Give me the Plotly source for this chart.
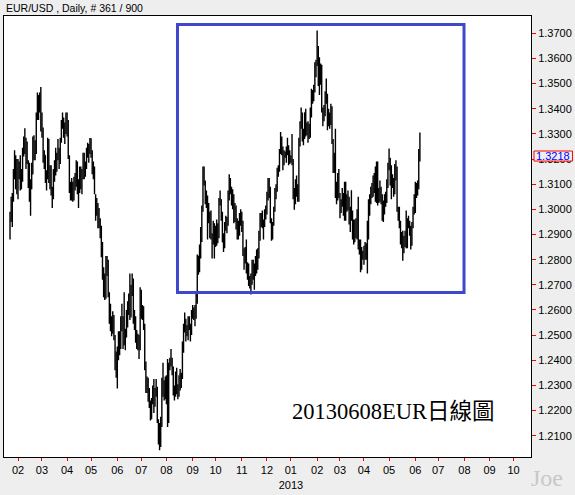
import pandas as pd
import plotly.graph_objects as go

title_text = "EUR/USD , Daily, # 361 / 900"
caption_text = "20130608EUR日線圖"
signature_text = "Joe"
first_day = "2012-01-23"
axis_end_day = "2013-10-31"
tick_month_starts = pd.date_range("2012-02-01", "2013-10-01", freq="MS")
tick_labels = ["02", "03", "04", "05", "06", "07", "08", "09", "10", "11", "12",
               "01<br>2013", "02", "03", "04", "05", "06", "07", "08", "09", "10"]

opens = [
    # 2012-01 (7)
    1.2930, 1.2975, 1.3030, 1.3040, 1.3140, 1.3210, 1.3130,
    # 2012-02 (21)
    1.3085, 1.3160, 1.3160, 1.3150, 1.3135, 1.3240, 1.3270, 1.3280, 1.3195, 1.3190, 1.3125, 1.3045, 1.3110, 1.3140, 1.3240, 1.3235, 1.3240, 1.3375, 1.3450, 1.3400, 1.3445,
    # 2012-03 (22)
    1.3320, 1.3315, 1.3200, 1.3215, 1.3135, 1.3125, 1.3270, 1.3125, 1.3140, 1.3080, 1.3060, 1.3150, 1.3175, 1.3220, 1.3210, 1.3240, 1.3190, 1.3270, 1.3330, 1.3350, 1.3310, 1.3310,
    # 2012-04 (21)
    1.3340, 1.3320, 1.3210, 1.3080, 1.3070, 1.3100, 1.3090, 1.3095, 1.3125, 1.3160, 1.3075, 1.3080, 1.3160, 1.3105, 1.3140, 1.3220, 1.3160, 1.3170, 1.3235, 1.3240, 1.3240,
    # 2012-05 (23)
    1.3240, 1.3230, 1.3150, 1.3150, 1.2990, 1.3040, 1.3020, 1.2955, 1.2940, 1.2915, 1.2830, 1.2765, 1.2720, 1.2670, 1.2780, 1.2780, 1.2665, 1.2580, 1.2520, 1.2515, 1.2560, 1.2495, 1.2375,
    # 2012-06 (21)
    1.2365, 1.2430, 1.2500, 1.2455, 1.2560, 1.2560, 1.2515, 1.2475, 1.2505, 1.2565, 1.2630, 1.2640, 1.2580, 1.2680, 1.2705, 1.2555, 1.2570, 1.2500, 1.2495, 1.2495, 1.2445,
    # 2012-07 (22)
    1.2665, 1.2585, 1.2610, 1.2535, 1.2390, 1.2290, 1.2290, 1.2265, 1.2215, 1.2200, 1.2240, 1.2290, 1.2270, 1.2270, 1.2285, 1.2155, 1.2115, 1.2065, 1.2165, 1.2290, 1.2315, 1.2280,
    # 2012-08 (23)
    1.2305, 1.2235, 1.2170, 1.2385, 1.2400, 1.2405, 1.2365, 1.2280, 1.2290, 1.2335, 1.2275, 1.2285, 1.2345, 1.2330, 1.2330, 1.2455, 1.2535, 1.2560, 1.2515, 1.2505, 1.2565, 1.2530, 1.2515,
    # 2012-09 (20)
    1.2575, 1.2590, 1.2570, 1.2605, 1.2635, 1.2815, 1.2765, 1.2850, 1.2895, 1.3005, 1.3130, 1.3110, 1.3050, 1.3050, 1.2975, 1.2980, 1.2935, 1.2900, 1.2875, 1.2910,
    # 2012-10 (23)
    1.2860, 1.2890, 1.2885, 1.2895, 1.3035, 1.3040, 1.2965, 1.2870, 1.2865, 1.2935, 1.2955, 1.2945, 1.3055, 1.3115, 1.3085, 1.3020, 1.3055, 1.2975, 1.2975, 1.2935, 1.2940, 1.2910, 1.2975,
    # 2012-11 (22)
    1.2960, 1.2940, 1.2835, 1.2805, 1.2810, 1.2780, 1.2750, 1.2710, 1.2710, 1.2710, 1.2740, 1.2770, 1.2745, 1.2810, 1.2815, 1.2825, 1.2900, 1.2975, 1.2970, 1.2945, 1.2945, 1.2980,
    # 2012-12 (21)
    1.2985, 1.3060, 1.3085, 1.3075, 1.2960, 1.2920, 1.2945, 1.3000, 1.3080, 1.3080, 1.3160, 1.3160, 1.3235, 1.3235, 1.3240, 1.3180, 1.3220, 1.3220, 1.3225, 1.3240, 1.3215,
    # 2013-01 (23)
    1.3190, 1.3200, 1.3185, 1.3050, 1.3070, 1.3115, 1.3075, 1.3065, 1.3270, 1.3345, 1.3380, 1.3295, 1.3285, 1.3385, 1.3315, 1.3320, 1.3315, 1.3320, 1.3380, 1.3460, 1.3450, 1.3485, 1.3575,
    # 2013-02 (20)
    1.3580, 1.3640, 1.3505, 1.3525, 1.3525, 1.3400, 1.3365, 1.3405, 1.3450, 1.3455, 1.3365, 1.3360, 1.3365, 1.3385, 1.3275, 1.3185, 1.3190, 1.3060, 1.3065, 1.3130,
    # 2013-03 (21)
    1.3055, 1.3020, 1.3025, 1.3050, 1.2985, 1.3105, 1.3010, 1.3020, 1.3040, 1.2955, 1.2965, 1.2910, 1.2955, 1.2870, 1.2950, 1.2905, 1.2985, 1.2855, 1.2845, 1.2780, 1.2815,
    # 2013-04 (22)
    1.2820, 1.2845, 1.2815, 1.2850, 1.2950, 1.2995, 1.3045, 1.3065, 1.3075, 1.3105, 1.3110, 1.3035, 1.3180, 1.3040, 1.3050, 1.3045, 1.3030, 1.2990, 1.2985, 1.3025, 1.3030, 1.3095,
    # 2013-05 (23)
    1.3170, 1.3185, 1.3110, 1.3110, 1.3115, 1.3075, 1.3175, 1.3160, 1.2995, 1.2975, 1.2935, 1.2880, 1.2880, 1.2835, 1.2860, 1.2895, 1.2860, 1.2935, 1.2935, 1.2905, 1.2865, 1.2945, 1.2995,
    # 2013-06 (5)
    1.2995, 1.3070, 1.3080, 1.3095, 1.3220,
]

highs = [
    1.2990, 1.3050, 1.3065, 1.3160, 1.3235, 1.3215, 1.3200,
    1.3200, 1.3190, 1.3215, 1.3160, 1.3245, 1.3290, 1.3322, 1.3285, 1.3270, 1.3195, 1.3185, 1.3120, 1.3185, 1.3290, 1.3295, 1.3275, 1.3385, 1.3465, 1.3455, 1.3465, 1.3486,
    1.3385, 1.3325, 1.3235, 1.3215, 1.3155, 1.3285, 1.3280, 1.3175, 1.3175, 1.3090, 1.3160, 1.3195, 1.3245, 1.3225, 1.3280, 1.3245, 1.3285, 1.3355, 1.3385, 1.3365, 1.3345, 1.3385,
    1.3385, 1.3355, 1.3215, 1.3110, 1.3125, 1.3110, 1.3130, 1.3145, 1.3195, 1.3190, 1.3120, 1.3170, 1.3170, 1.3160, 1.3225, 1.3225, 1.3190, 1.3245, 1.3265, 1.3260, 1.3284,
    1.3283, 1.3235, 1.3190, 1.3170, 1.3060, 1.3045, 1.3025, 1.3005, 1.2965, 1.2935, 1.2870, 1.2770, 1.2745, 1.2815, 1.2815, 1.2800, 1.2670, 1.2625, 1.2575, 1.2595, 1.2580, 1.2500, 1.2435,
    1.2455, 1.2515, 1.2515, 1.2575, 1.2625, 1.2575, 1.2670, 1.2525, 1.2600, 1.2635, 1.2665, 1.2745, 1.2700, 1.2745, 1.2725, 1.2600, 1.2575, 1.2520, 1.2505, 1.2500, 1.2690,
    1.2680, 1.2620, 1.2615, 1.2545, 1.2395, 1.2335, 1.2330, 1.2290, 1.2240, 1.2250, 1.2300, 1.2325, 1.2290, 1.2325, 1.2295, 1.2165, 1.2150, 1.2175, 1.2330, 1.2390, 1.2320, 1.2335,
    1.2340, 1.2405, 1.2390, 1.2410, 1.2445, 1.2410, 1.2375, 1.2300, 1.2355, 1.2370, 1.2305, 1.2340, 1.2365, 1.2350, 1.2475, 1.2545, 1.2590, 1.2565, 1.2540, 1.2575, 1.2575, 1.2545, 1.2600,
    1.2620, 1.2610, 1.2620, 1.2665, 1.2820, 1.2815, 1.2860, 1.2930, 1.3015, 1.3170, 1.3170, 1.3115, 1.3075, 1.3055, 1.3025, 1.2990, 1.2995, 1.2905, 1.2955, 1.2945,
    1.2935, 1.2960, 1.2945, 1.3045, 1.3075, 1.3040, 1.2990, 1.2905, 1.2950, 1.2975, 1.2970, 1.3075, 1.3140, 1.3125, 1.3090, 1.3080, 1.3060, 1.3025, 1.3015, 1.2965, 1.2955, 1.2985, 1.3000,
    1.2990, 1.2955, 1.2845, 1.2850, 1.2880, 1.2790, 1.2785, 1.2735, 1.2745, 1.2800, 1.2800, 1.2785, 1.2815, 1.2840, 1.2845, 1.2915, 1.2985, 1.2985, 1.2995, 1.2960, 1.3000, 1.3015,
    1.3070, 1.3125, 1.3125, 1.3090, 1.2965, 1.2950, 1.3010, 1.3085, 1.3100, 1.3165, 1.3175, 1.3240, 1.3308, 1.3290, 1.3250, 1.3235, 1.3230, 1.3250, 1.3285, 1.3255, 1.3235,
    1.3215, 1.3300, 1.3200, 1.3085, 1.3120, 1.3135, 1.3100, 1.3285, 1.3350, 1.3405, 1.3385, 1.3320, 1.3385, 1.3400, 1.3345, 1.3350, 1.3340, 1.3405, 1.3480, 1.3475, 1.3495, 1.3585, 1.3595,
    1.3711, 1.3650, 1.3605, 1.3580, 1.3575, 1.3405, 1.3415, 1.3470, 1.3520, 1.3460, 1.3400, 1.3385, 1.3420, 1.3410, 1.3280, 1.3225, 1.3320, 1.3110, 1.3145, 1.3160,
    1.3065, 1.3040, 1.3085, 1.3065, 1.3110, 1.3110, 1.3060, 1.3075, 1.3050, 1.3010, 1.3075, 1.2995, 1.2960, 1.2960, 1.2965, 1.3000, 1.3050, 1.2880, 1.2880, 1.2850, 1.2835,
    1.2855, 1.2870, 1.2865, 1.2955, 1.3040, 1.3060, 1.3090, 1.3105, 1.3135, 1.3145, 1.3170, 1.3190, 1.3190, 1.3085, 1.3115, 1.3090, 1.3060, 1.3035, 1.3060, 1.3070, 1.3120, 1.3185,
    1.3242, 1.3205, 1.3175, 1.3140, 1.3125, 1.3180, 1.3195, 1.3170, 1.3010, 1.3010, 1.2955, 1.2910, 1.2915, 1.2895, 1.2915, 1.2995, 1.2965, 1.2975, 1.2955, 1.2935, 1.2950, 1.3010, 1.3060,
    1.3110, 1.3105, 1.3115, 1.3240, 1.3306,
]

lows = [
    1.2880, 1.2950, 1.2930, 1.3030, 1.3120, 1.3080, 1.3060,
    1.3040, 1.3120, 1.3075, 1.3080, 1.3110, 1.3210, 1.3220, 1.3160, 1.3180, 1.3085, 1.3030, 1.2975, 1.3080, 1.3140, 1.3195, 1.3195, 1.3220, 1.3355, 1.3355, 1.3385, 1.3310,
    1.3285, 1.3185, 1.3160, 1.3105, 1.3075, 1.3120, 1.3105, 1.3080, 1.3055, 1.3005, 1.3040, 1.3110, 1.3135, 1.3150, 1.3195, 1.3160, 1.3180, 1.3265, 1.3320, 1.3285, 1.3260, 1.3300,
    1.3290, 1.3200, 1.3065, 1.3035, 1.3035, 1.3030, 1.3035, 1.3075, 1.3090, 1.3060, 1.3005, 1.3065, 1.3080, 1.3060, 1.3120, 1.3120, 1.3130, 1.3160, 1.3205, 1.3185, 1.3220,
    1.3205, 1.3140, 1.3120, 1.3060, 1.2955, 1.2975, 1.2925, 1.2925, 1.2885, 1.2810, 1.2720, 1.2650, 1.2640, 1.2645, 1.2735, 1.2650, 1.2545, 1.2515, 1.2495, 1.2505, 1.2480, 1.2360, 1.2330,
    1.2288, 1.2400, 1.2420, 1.2445, 1.2515, 1.2445, 1.2460, 1.2440, 1.2490, 1.2530, 1.2580, 1.2560, 1.2570, 1.2655, 1.2545, 1.2520, 1.2470, 1.2445, 1.2440, 1.2405, 1.2440,
    1.2565, 1.2560, 1.2520, 1.2360, 1.2270, 1.2270, 1.2235, 1.2210, 1.2160, 1.2165, 1.2225, 1.2190, 1.2215, 1.2255, 1.2150, 1.2065, 1.2042, 1.2055, 1.2135, 1.2255, 1.2240, 1.2245,
    1.2225, 1.2135, 1.2150, 1.2360, 1.2375, 1.2340, 1.2260, 1.2240, 1.2255, 1.2265, 1.2245, 1.2255, 1.2280, 1.2290, 1.2325, 1.2430, 1.2510, 1.2475, 1.2495, 1.2480, 1.2520, 1.2475, 1.2500,
    1.2565, 1.2560, 1.2535, 1.2565, 1.2625, 1.2740, 1.2750, 1.2805, 1.2870, 1.2990, 1.3095, 1.3020, 1.3005, 1.2880, 1.2945, 1.2885, 1.2880, 1.2805, 1.2860, 1.2805,
    1.2850, 1.2855, 1.2865, 1.2885, 1.3015, 1.2955, 1.2870, 1.2830, 1.2845, 1.2915, 1.2905, 1.2935, 1.3035, 1.3060, 1.3015, 1.3000, 1.2945, 1.2950, 1.2920, 1.2880, 1.2880, 1.2895, 1.2935,
    1.2910, 1.2815, 1.2760, 1.2785, 1.2745, 1.2720, 1.2695, 1.2685, 1.2661, 1.2700, 1.2720, 1.2680, 1.2735, 1.2745, 1.2760, 1.2805, 1.2875, 1.2930, 1.2925, 1.2880, 1.2930, 1.2960,
    1.2980, 1.3035, 1.3045, 1.2945, 1.2875, 1.2880, 1.2935, 1.2990, 1.3040, 1.3070, 1.3130, 1.3150, 1.3220, 1.3215, 1.3155, 1.3175, 1.3205, 1.3185, 1.3215, 1.3175, 1.3180,
    1.3185, 1.3175, 1.3040, 1.2998, 1.3020, 1.3050, 1.3030, 1.3030, 1.3250, 1.3320, 1.3270, 1.3255, 1.3280, 1.3290, 1.3295, 1.3265, 1.3280, 1.3285, 1.3365, 1.3420, 1.3430, 1.3465, 1.3525,
    1.3570, 1.3490, 1.3455, 1.3495, 1.3385, 1.3330, 1.3350, 1.3370, 1.3420, 1.3315, 1.3330, 1.3320, 1.3335, 1.3260, 1.3145, 1.3145, 1.3045, 1.3020, 1.3035, 1.3045,
    1.2965, 1.2985, 1.3010, 1.2975, 1.2955, 1.2955, 1.2990, 1.2995, 1.2940, 1.2910, 1.2955, 1.2880, 1.2860, 1.2870, 1.2885, 1.2880, 1.2840, 1.2820, 1.2750, 1.2760, 1.2800,
    1.2780, 1.2800, 1.2800, 1.2745, 1.2880, 1.2975, 1.3020, 1.3045, 1.3050, 1.3065, 1.3030, 1.3025, 1.3015, 1.3025, 1.3030, 1.3020, 1.2955, 1.2950, 1.2980, 1.3010, 1.3025, 1.3085,
    1.3155, 1.3095, 1.3040, 1.3085, 1.3050, 1.3060, 1.3115, 1.2990, 1.2955, 1.2925, 1.2860, 1.2845, 1.2796, 1.2825, 1.2850, 1.2845, 1.2845, 1.2925, 1.2895, 1.2840, 1.2855, 1.2925, 1.2980,
    1.2985, 1.3045, 1.3055, 1.3080, 1.3190,
]

closes = [
    1.2975, 1.3030, 1.3040, 1.3140, 1.3210, 1.3130, 1.3085,
    1.3160, 1.3160, 1.3150, 1.3135, 1.3240, 1.3270, 1.3280, 1.3195, 1.3190, 1.3125, 1.3045, 1.3110, 1.3140, 1.3240, 1.3235, 1.3240, 1.3375, 1.3450, 1.3400, 1.3445, 1.3320,
    1.3315, 1.3200, 1.3215, 1.3135, 1.3125, 1.3270, 1.3125, 1.3140, 1.3080, 1.3060, 1.3150, 1.3175, 1.3220, 1.3210, 1.3240, 1.3190, 1.3270, 1.3330, 1.3350, 1.3310, 1.3310, 1.3340,
    1.3320, 1.3210, 1.3080, 1.3070, 1.3100, 1.3090, 1.3095, 1.3125, 1.3160, 1.3075, 1.3080, 1.3160, 1.3105, 1.3140, 1.3220, 1.3160, 1.3170, 1.3235, 1.3240, 1.3240, 1.3240,
    1.3230, 1.3150, 1.3150, 1.3080, 1.3040, 1.3020, 1.2955, 1.2940, 1.2915, 1.2830, 1.2765, 1.2720, 1.2670, 1.2780, 1.2780, 1.2665, 1.2580, 1.2520, 1.2515, 1.2560, 1.2495, 1.2375, 1.2365,
    1.2430, 1.2500, 1.2455, 1.2560, 1.2560, 1.2515, 1.2475, 1.2505, 1.2565, 1.2630, 1.2640, 1.2580, 1.2680, 1.2705, 1.2555, 1.2570, 1.2500, 1.2495, 1.2495, 1.2445, 1.2665,
    1.2585, 1.2610, 1.2535, 1.2390, 1.2290, 1.2290, 1.2265, 1.2215, 1.2200, 1.2240, 1.2290, 1.2270, 1.2270, 1.2285, 1.2155, 1.2115, 1.2065, 1.2165, 1.2290, 1.2315, 1.2280, 1.2305,
    1.2235, 1.2170, 1.2385, 1.2400, 1.2405, 1.2365, 1.2280, 1.2290, 1.2335, 1.2275, 1.2285, 1.2345, 1.2330, 1.2330, 1.2455, 1.2535, 1.2560, 1.2515, 1.2505, 1.2565, 1.2530, 1.2515, 1.2575,
    1.2590, 1.2570, 1.2605, 1.2635, 1.2815, 1.2765, 1.2850, 1.2895, 1.3005, 1.3130, 1.3110, 1.3050, 1.3050, 1.2975, 1.2980, 1.2935, 1.2900, 1.2875, 1.2910, 1.2860,
    1.2890, 1.2885, 1.2895, 1.3035, 1.3040, 1.2965, 1.2870, 1.2865, 1.2935, 1.2955, 1.2945, 1.3055, 1.3115, 1.3085, 1.3020, 1.3055, 1.2975, 1.2975, 1.2935, 1.2940, 1.2910, 1.2975, 1.2960,
    1.2940, 1.2835, 1.2805, 1.2810, 1.2780, 1.2750, 1.2710, 1.2710, 1.2710, 1.2740, 1.2770, 1.2745, 1.2810, 1.2815, 1.2825, 1.2900, 1.2975, 1.2970, 1.2945, 1.2945, 1.2980, 1.2985,
    1.3060, 1.3085, 1.3075, 1.2960, 1.2920, 1.2945, 1.3000, 1.3080, 1.3080, 1.3160, 1.3160, 1.3235, 1.3235, 1.3240, 1.3180, 1.3220, 1.3220, 1.3225, 1.3240, 1.3215, 1.3190,
    1.3200, 1.3185, 1.3050, 1.3070, 1.3115, 1.3075, 1.3065, 1.3270, 1.3345, 1.3380, 1.3295, 1.3285, 1.3385, 1.3315, 1.3320, 1.3315, 1.3320, 1.3380, 1.3460, 1.3450, 1.3485, 1.3575, 1.3580,
    1.3640, 1.3505, 1.3525, 1.3525, 1.3400, 1.3365, 1.3405, 1.3450, 1.3455, 1.3365, 1.3360, 1.3365, 1.3385, 1.3275, 1.3185, 1.3190, 1.3060, 1.3065, 1.3130, 1.3055,
    1.3020, 1.3025, 1.3050, 1.2985, 1.3105, 1.3010, 1.3020, 1.3040, 1.2955, 1.2965, 1.3075, 1.2955, 1.2870, 1.2950, 1.2905, 1.2985, 1.2855, 1.2845, 1.2780, 1.2815, 1.2820,
    1.2845, 1.2815, 1.2850, 1.2950, 1.2995, 1.3045, 1.3065, 1.3075, 1.3105, 1.3110, 1.3035, 1.3180, 1.3040, 1.3050, 1.3045, 1.3030, 1.2990, 1.2985, 1.3025, 1.3030, 1.3095, 1.3170,
    1.3185, 1.3110, 1.3110, 1.3115, 1.3075, 1.3175, 1.3160, 1.2995, 1.2975, 1.2935, 1.2880, 1.2880, 1.2835, 1.2860, 1.2895, 1.2860, 1.2935, 1.2935, 1.2905, 1.2865, 1.2945, 1.2995, 1.2995,
    1.3070, 1.3080, 1.3095, 1.3220, 1.3218,
]

# trading-day calendar (weekdays) used as the x axis
calendar = pd.bdate_range(first_day, axis_end_day)
x_idx = list(range(len(closes)))
tick_pos = [int(calendar.searchsorted(m)) for m in tick_month_starts]

fig = go.Figure(go.Ohlc(
    x=x_idx, open=opens, high=highs, low=lows, close=closes,
    increasing=dict(line=dict(color="black", width=1.4)),
    decreasing=dict(line=dict(color="black", width=1.4)),
    tickwidth=0.5, hoverinfo="skip",
))

axis_font = dict(family="Arial, 'Liberation Sans', sans-serif", size=11, color="black")

fig.update_layout(
    width=575, height=495,
    margin=dict(l=4, r=44, t=16, b=38),
    paper_bgcolor="#EEEEEE", plot_bgcolor="white",
    showlegend=False,
    font=axis_font,
)
fig.update_xaxes(
    range=[-5.26, 456.3], tickmode="array", tickvals=tick_pos, ticktext=tick_labels,
    ticks="outside", ticklen=3, tickcolor="red", tickwidth=1, tickfont=axis_font,
    showline=True, mirror=True, linecolor="black", linewidth=1,
    showgrid=False, zeroline=False, rangeslider_visible=False, automargin=False,
)
fig.update_yaxes(
    side="right", range=[1.20153, 1.37688], tick0=1.2, dtick=0.01, tickformat=".4f",
    ticks="outside", ticklen=4, tickcolor="red", tickwidth=1, tickfont=axis_font,
    showline=True, mirror=True, linecolor="black", linewidth=1,
    showgrid=False, zeroline=False, automargin=False,
)

last_price = closes[-1]
fig.add_shape(type="rect", xref="paper", yref="paper",
              x0=0.3292, x1=0.8729, y0=0.3730, y1=0.9807,
              line=dict(color="#3F48CC", width=3), fillcolor="rgba(0,0,0,0)", layer="above")
fig.add_shape(type="rect", xref="paper", yref="y",
              x0=1.0057, x1=1.0787, y0=last_price - 0.0026, y1=last_price + 0.0014,
              line=dict(color="red", width=1), fillcolor="#EEEEEE", layer="above")

fig.add_annotation(text=f"{last_price:.4f}", xref="paper", yref="y", x=1.0422, y=last_price,
                   yshift=-1.5, xanchor="center", yanchor="middle", showarrow=False,
                   font=dict(family="Arial, 'Liberation Sans', sans-serif", size=11, color="blue"))
fig.add_annotation(text=title_text, xref="paper", yref="paper", x=0, y=1,
                   xanchor="left", yanchor="bottom", showarrow=False,
                   font=dict(family="Arial, 'Liberation Sans', sans-serif", size=10.5, color="black"))
fig.add_annotation(text=caption_text, xref="paper", yref="paper", x=0.5427, y=0.1043,
                   xanchor="left", yanchor="middle", showarrow=False,
                   font=dict(family="'Liberation Serif', 'Times New Roman', 'Noto Sans CJK TC', serif",
                             size=22.5, color="black"))
fig.add_annotation(text=signature_text, xref="paper", yref="paper", x=1.0304, y=-0.0476,
                   xanchor="center", yanchor="middle", showarrow=False,
                   font=dict(family="'Liberation Serif', 'Times New Roman', serif", size=24, color="#C8C8C8"))

fig.write_html("out.html", config={"displayModeBar": False},
               post_script="document.body.style.margin='0';document.body.style.padding='0';")
